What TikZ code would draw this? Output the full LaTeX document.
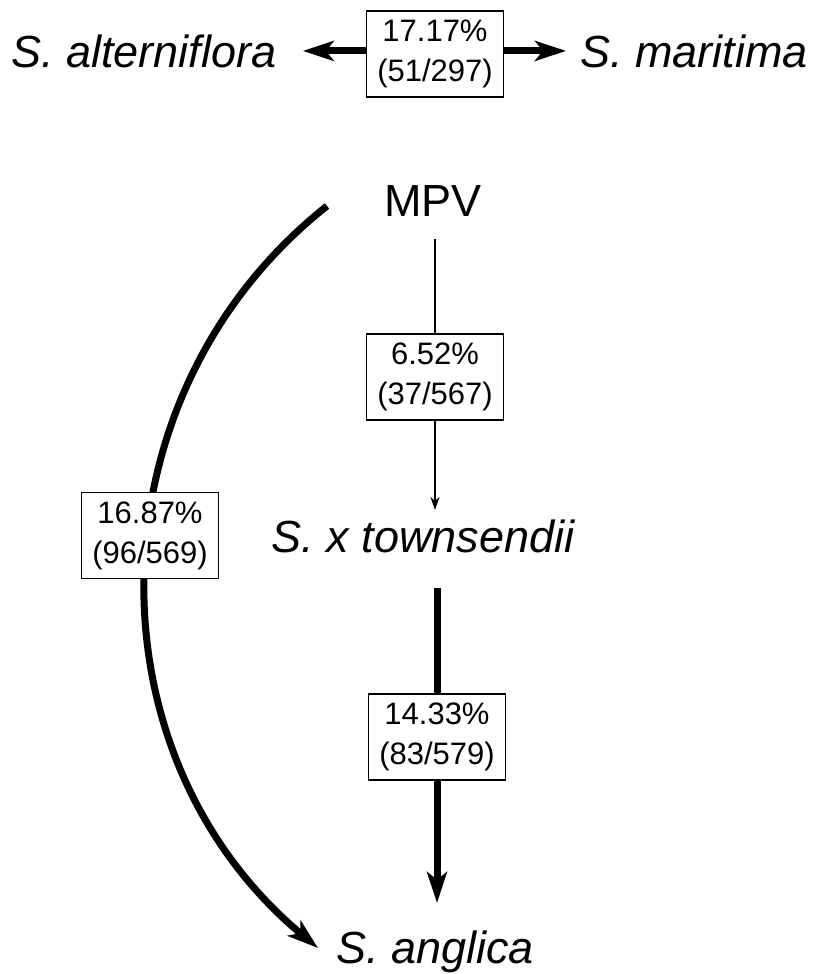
\documentclass[tikz,border=0pt]{standalone}
\usepackage{fontspec}
\setmainfont{Liberation Sans}
\usetikzlibrary{arrows.meta}
\tikzset{
  species/.style={font=\fontsize{45}{54}\selectfont\itshape, inner sep=0pt, anchor=base},
  plain/.style={font=\fontsize{45}{54}\selectfont, inner sep=0pt, anchor=base},
  pbox/.style={draw, line width=1.2pt, fill=white, minimum width=137pt, minimum height=86pt,
    inner sep=0pt, align=center, font=\fontsize{31}{40}\selectfont},
  thickarrow/.style={line width=7pt, -{Stealth[length=31pt, width=20pt, inset=8pt]}},
  thinarrow/.style={line width=2.2pt, -{Stealth[length=13pt, width=9pt, inset=4pt]}},
}
\begin{document}
\begin{tikzpicture}[x=1pt, y=-1pt]
\useasboundingbox (0,0) rectangle (813,974);
% top row
\node[species] (alt) at (144,67) {S. alterniflora};
\node[species] (mar) at (694,67) {S. maritima};
\node[pbox] (b1) at (435,54) {17.17\%\\(51/297)};
\draw[thickarrow, shorten >=26pt] (b1.west |- alt.east) -- (alt.east);
\draw[thickarrow, shorten >=14pt] (b1.east |- mar.west) -- (mar.west);
% main diagram
\node[plain] (mpv) at (433,216) {MPV};
\node[species] (town) at (423,552) {S. x townsendii};
\node[species] (angl) at (435,963) {S. anglica};
\node[pbox] (b2) at (435,377) {6.52\%\\(37/567)};
\node[pbox] (b4) at (437,737) {14.33\%\\(83/579)};
\draw[line width=2.2pt, shorten <=23pt] (mpv.south -| b2.north) -- (b2.north);
\draw[thinarrow] (b2.south) -- (b2.south |- 0,510);
\draw[line width=7pt, shorten <=35pt] (town.south -| b4.north) -- (b4.north);
\draw[thickarrow] (b4.south) -- (b4.south |- 0,903);
% curved connector
\coordinate (cs) at (327,206);
\coordinate (ce) at (318,948);
\draw[thickarrow] (cs) .. controls (89.3,394.4) and (85,753.9) .. (ce);
\node[pbox] (b3) at (150,535.5) {16.87\%\\(96/569)};
\end{tikzpicture}
\end{document}
